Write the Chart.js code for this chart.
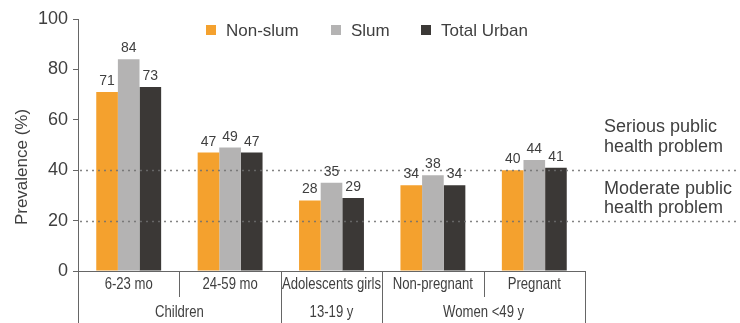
<!DOCTYPE html>
<html>
<head>
<meta charset="utf-8">
<script src="https://cdn.jsdelivr.net/npm/chart.js@4/dist/chart.umd.min.js"></script>
<style>
  html, body { margin: 0; padding: 0; background: #fff; }
  #wrap { width: 740px; height: 323px; position: relative; }
</style>
</head>
<body>
<div id="wrap"><canvas id="c" width="740" height="323"></canvas></div>
<script>
// Anaemia prevalence by group, urban non-slum / slum / total
const categories = ['6-23 mo', '24-59 mo', 'Adolescents girls', 'Non-pregnant', 'Pregnant'];
const groupLabels = ['Children', '13-19 y', 'Women <49 y'];
const groupSpans = [[0, 1], [2, 2], [3, 4]];
const nonSlum = [71, 47, 28, 34, 40];
const slum = [84, 49, 35, 38, 44];
const totalUrban = [73, 47, 29, 34, 41];
const seriesNames = ['Non-slum', 'Slum', 'Total Urban'];
const yTicks = [0, 20, 40, 60, 80, 100];
const thresholds = [20, 40];
const thresholdNotes = [
  { ref: 40, dy: [-43, -23], lines: ['Serious public', 'health problem'] },
  { ref: 20, dy: [-32, -13], lines: ['Moderate public', 'health problem'] }
];

const colors = ['#F4A12E', '#B4B3B3', '#3B3836'];
const textColor = '#3f3f3f';
const axisColor = '#666';
const FONT = '"Liberation Sans", Arial, Helvetica, sans-serif';

const decorPlugin = {
  id: 'decor',
  afterDatasetsDraw(chart) {
    const ctx = chart.ctx;
    const x = chart.scales.x, y = chart.scales.y;
    const area = chart.chartArea;
    ctx.save();

    // dotted threshold lines running past the plot to the notes
    ctx.strokeStyle = 'rgba(110,110,110,0.85)';
    ctx.lineWidth = 1.3;
    ctx.setLineDash([2, 4]);
    thresholds.forEach(v => {
      const py = Math.round(y.getPixelForValue(v)) + 0.5;
      ctx.beginPath();
      ctx.moveTo(area.left + 2, py);
      ctx.lineTo(chart.width, py);
      ctx.stroke();
    });
    ctx.setLineDash([]);

    // value labels above bars
    ctx.fillStyle = textColor;
    ctx.font = '14px ' + FONT;
    ctx.textAlign = 'center';
    ctx.textBaseline = 'alphabetic';
    chart.data.datasets.forEach((ds, di) => {
      chart.getDatasetMeta(di).data.forEach((bar, i) => {
        ctx.fillText(String(ds.data[i]), bar.x, bar.y - 7);
      });
    });

    // threshold notes on the right
    ctx.font = '18px ' + FONT;
    ctx.textAlign = 'left';
    ctx.textBaseline = 'middle';
    thresholdNotes.forEach(n => {
      const py = y.getPixelForValue(n.ref);
      ctx.fillText(n.lines[0], 604, py + n.dy[0]);
      ctx.fillText(n.lines[1], 604, py + n.dy[1]);
    });

    // legend
    ctx.font = '17px ' + FONT;
    const legendX = [206, 331, 421];
    seriesNames.forEach((name, i) => {
      ctx.fillStyle = colors[i];
      ctx.fillRect(legendX[i], 25, 10, 10);
      ctx.fillStyle = textColor;
      ctx.fillText(name, legendX[i] + 20, 31);
    });

    // category boxes below the axis
    const bottom = area.bottom;
    const half = (x.getPixelForValue(1) - x.getPixelForValue(0)) / 2;
    ctx.strokeStyle = axisColor;
    ctx.lineWidth = 1;
    const edge = i => Math.round(x.getPixelForValue(i) - half) + 0.5;
    // left axis continues down
    ctx.beginPath();
    ctx.moveTo(edge(0), bottom);
    ctx.lineTo(edge(0), chart.height);
    ctx.stroke();
    for (let i = 1; i <= categories.length; i++) {
      const isGroupEdge = groupSpans.some(s => s[1] + 1 === i);
      ctx.beginPath();
      ctx.moveTo(edge(i), bottom);
      ctx.lineTo(edge(i), isGroupEdge ? chart.height : bottom + 26);
      ctx.stroke();
    }

    const drawNarrow = (txt, cx, cy) => {
      ctx.save();
      ctx.translate(cx, cy);
      ctx.scale(0.82, 1);
      ctx.fillText(txt, 0, 0);
      ctx.restore();
    };
    ctx.fillStyle = textColor;
    ctx.font = '16px ' + FONT;
    ctx.textAlign = 'center';
    ctx.textBaseline = 'middle';
    categories.forEach((c, i) => drawNarrow(c, x.getPixelForValue(i), bottom + 14));
    groupLabels.forEach((g, gi) => {
      const [a, b] = groupSpans[gi];
      const cx = (x.getPixelForValue(a) + x.getPixelForValue(b)) / 2;
      drawNarrow(g, cx, bottom + 42);
    });

    // y axis title
    ctx.save();
    ctx.translate(22, 167);
    ctx.rotate(-Math.PI / 2);
    ctx.font = '17px ' + FONT;
    ctx.fillText('Prevalence (%)', 0, 0);
    ctx.restore();

    ctx.restore();
  }
};

new Chart(document.getElementById('c'), {
  type: 'bar',
  data: {
    labels: categories,
    datasets: [
      { label: seriesNames[0], data: nonSlum, backgroundColor: colors[0] },
      { label: seriesNames[1], data: slum, backgroundColor: colors[1] },
      { label: seriesNames[2], data: totalUrban, backgroundColor: colors[2] }
    ]
  },
  options: {
    responsive: false,
    animation: false,
    devicePixelRatio: 1,
    layout: { padding: { top: 19, right: 155, left: 0, bottom: 0 } },
    datasets: { bar: { barPercentage: 1.0, categoryPercentage: 0.64, borderWidth: 0 } },
    plugins: { legend: { display: false }, tooltip: { enabled: false } },
    scales: {
      x: {
        grid: { display: false },
        border: { display: true, color: axisColor, width: 1 },
        ticks: { display: false },
        afterFit(s) { s.height = 52; }
      },
      y: {
        min: 0, max: 100,
        afterBuildTicks(s) { s.ticks = yTicks.map(v => ({ value: v })); },
        afterFit(s) { s.width = 78; },
        grid: { drawOnChartArea: false, drawTicks: true, tickLength: 5, color: axisColor },
        border: { display: true, color: axisColor, width: 1 },
        ticks: { color: textColor, padding: 5, font: { size: 18, family: FONT } }
      }
    }
  },
  plugins: [decorPlugin]
});
</script>
</body>
</html>
